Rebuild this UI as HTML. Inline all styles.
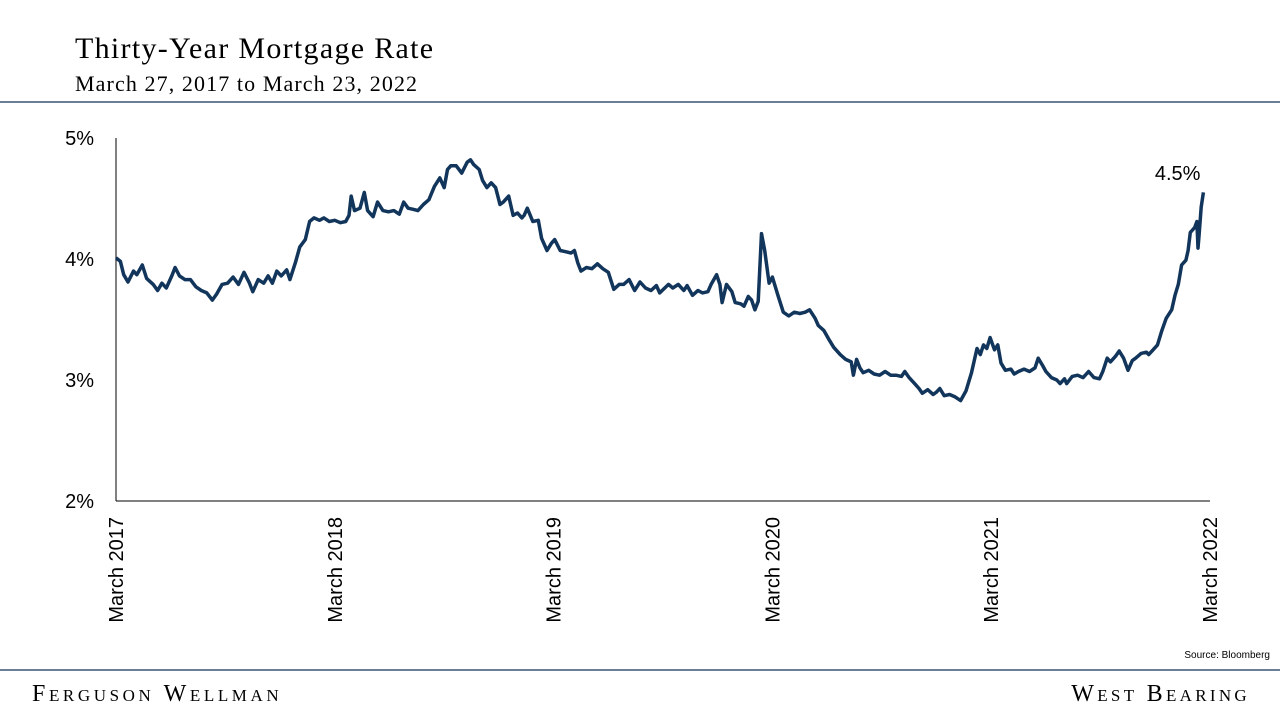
<!DOCTYPE html>
<html><head><meta charset="utf-8">
<style>
body{margin:0;width:1280px;height:720px;background:#fff;overflow:hidden;position:relative;font-family:"Liberation Serif",serif}
.t{position:absolute;color:#000;white-space:nowrap}
</style></head><body>
<div class="t" style="left:75px;top:32px;font-size:30px;letter-spacing:1.3px">Thirty-Year Mortgage Rate</div>
<div class="t" style="left:75px;top:71px;font-size:22px;letter-spacing:1.1px">March 27, 2017 to March 23, 2022</div>
<div style="position:absolute;left:0;top:101px;width:1280px;height:2px;background:#6a7f96"></div>
<div style="position:absolute;left:0;top:669px;width:1280px;height:2px;background:#6a7f96"></div>
<div class="t" style="right:10px;top:650px;font-size:10px;font-family:'Liberation Sans',sans-serif">Source: Bloomberg</div>
<div class="t" style="left:32px;top:681px;font-size:24px;font-variant:small-caps;letter-spacing:3.6px">Ferguson Wellman</div>
<div class="t" style="right:30px;top:681px;font-size:24px;font-variant:small-caps;letter-spacing:3.3px">West Bearing</div>
<svg id="chart" width="1280" height="720" style="position:absolute;left:0;top:0" font-family="Liberation Sans, sans-serif"></svg>
<script>
const yTicks=[2,3,4,5];
const yTickLabels=["2%","3%","4%","5%"];
const xTicks=[0,0.2,0.4,0.6,0.8,1.0];
const xTickLabels=["March 2017","March 2018","March 2019","March 2020","March 2021","March 2022"];
const times=[0,.004,.007,.011,.016,.019,.024,.028,.034,.038,.042,.046,.051,.054,.058,.063,.068,.073,.078,.083,.088,.092,.097,.102,.107,.112,.117,.122,.125,.130,.135,.139,.143,.147,.151,.156,.159,.164,.168,.173,.177,.181,.186,.190,.195,.200,.205,.210,.213,.215,.218,.223,.227,.230,.235,.239,.244,.249,.254,.259,.263,.267,.272,.276,.281,.286,.291,.296,.300,.303,.306,.311,.316,.321,.324,.327,.332,.335,.339,.343,.347,.351,.354,.359,.363,.367,.371,.373,.376,.381,.386,.389,.394,.398,.401,.406,.411,.416,.419,.422,.425,.430,.435,.440,.445,.450,.455,.460,.464,.469,.474,.479,.484,.489,.494,.497,.505,.509,.514,.519,.522,.527,.532,.536,.541,.544,.549,.552,.554,.558,.563,.566,.571,.574,.578,.581,.584,.587,.590,.593,.597,.600,.605,.610,.615,.620,.625,.630,.634,.639,.642,.647,.652,.656,.662,.667,.672,.674,.677,.680,.683,.688,.693,.698,.703,.708,.713,.718,.721,.725,.730,.734,.737,.742,.747,.750,.753,.757,.762,.767,.772,.777,.782,.787,.790,.793,.796,.799,.803,.806,.809,.813,.818,.821,.825,.830,.835,.840,.843,.847,.850,.855,.860,.863,.867,.869,.874,.879,.884,.889,.894,.899,.902,.906,.909,.914,.917,.921,.925,.929,.932,.937,.942,.944,.948,.952,.956,.960,.965,.968,.971,.974,.977,.978,.980,.982,.984,.986,.988,.989,.990,.992,.994];
const rates=[4.01,3.98,3.87,3.81,3.90,3.87,3.95,3.84,3.79,3.74,3.80,3.76,3.86,3.93,3.86,3.83,3.83,3.77,3.74,3.72,3.66,3.71,3.79,3.80,3.85,3.79,3.89,3.80,3.73,3.83,3.80,3.86,3.80,3.90,3.86,3.91,3.83,3.97,4.10,4.16,4.31,4.34,4.32,4.34,4.31,4.32,4.30,4.31,4.36,4.52,4.40,4.42,4.55,4.40,4.35,4.47,4.40,4.39,4.40,4.37,4.47,4.42,4.41,4.40,4.45,4.49,4.60,4.67,4.59,4.74,4.77,4.77,4.71,4.80,4.82,4.78,4.74,4.65,4.59,4.63,4.59,4.45,4.47,4.52,4.36,4.38,4.34,4.36,4.42,4.31,4.32,4.17,4.07,4.13,4.16,4.07,4.06,4.05,4.07,3.97,3.90,3.93,3.92,3.96,3.92,3.89,3.75,3.79,3.79,3.83,3.74,3.81,3.76,3.74,3.78,3.72,3.79,3.76,3.79,3.74,3.78,3.70,3.74,3.72,3.73,3.79,3.87,3.79,3.64,3.79,3.73,3.64,3.63,3.61,3.69,3.66,3.58,3.65,4.21,4.07,3.80,3.85,3.70,3.56,3.53,3.56,3.55,3.56,3.58,3.51,3.45,3.41,3.33,3.27,3.21,3.17,3.15,3.04,3.17,3.10,3.06,3.08,3.05,3.04,3.07,3.04,3.04,3.03,3.07,3.02,2.97,2.93,2.89,2.92,2.88,2.90,2.93,2.87,2.88,2.86,2.83,2.91,3.06,3.26,3.21,3.29,3.26,3.35,3.25,3.29,3.14,3.08,3.09,3.05,3.07,3.09,3.07,3.10,3.18,3.12,3.07,3.02,3.00,2.97,3.01,2.97,3.03,3.04,3.02,3.07,3.02,3.01,3.07,3.18,3.15,3.20,3.24,3.18,3.08,3.16,3.18,3.22,3.23,3.21,3.25,3.29,3.41,3.51,3.58,3.70,3.79,3.95,3.98,3.99,4.07,4.22,4.24,4.26,4.31,4.09,4.20,4.43,4.55,4.53];
const lastLabel="4.5%";
const NS="http://www.w3.org/2000/svg";
const svg=document.getElementById('chart');
const X0=116,X1=1210,Y0=501,Y1=138;
function xS(t){return X0+t*(X1-X0);}
function yS(v){return Y0-(v-2)/3*(Y0-Y1);}
function mk(tag,attrs,parent){const e=document.createElementNS(NS,tag);for(const k in attrs)e.setAttribute(k,attrs[k]);(parent||svg).appendChild(e);return e;}
const yAxis=mk('line',{x1:X0,x2:X0,y1:Y1,y2:Y0,stroke:'#000','stroke-width':1});


const xAxis=mk('line',{x1:X0,x2:X1,y1:Y0,y2:Y0,stroke:'#000','stroke-width':1});


yTicks.forEach((v,i)=>{
  const t=mk('text',{x:X0-22,y:yS(v)+7,'text-anchor':'end','font-size':20,fill:'#000'});
  t.textContent=yTickLabels[i];
  
  
});
xTicks.forEach((v,i)=>{
  const x=xS(v);
  const t=mk('text',{x:0,y:0,'text-anchor':'end','font-size':20,fill:'#000',transform:`translate(${x+7},${Y0+16}) rotate(-90)`});
  t.textContent=xTickLabels[i];
  
  
});
const d=times.map((t,i)=>(i?'L':'M')+xS(t).toFixed(1)+','+yS(rates[i]).toFixed(1)).join(' ');
const p=mk('path',{d:d,fill:'none',stroke:'#12355b','stroke-width':3.5,'stroke-linejoin':'round'});


const lab=mk('text',{x:xS(times[times.length-1])-3,y:yS(rates[rates.length-1])-15,'text-anchor':'end','font-size':20,fill:'#000'});
lab.textContent=lastLabel;


</script>
</body></html>
